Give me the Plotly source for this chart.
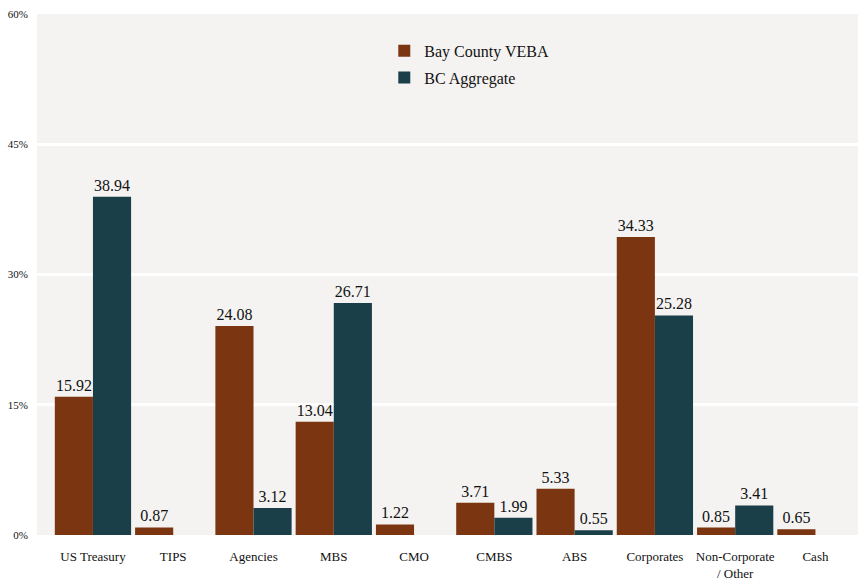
import plotly.graph_objects as go

categories = ["US Treasury", "TIPS", "Agencies", "MBS", "CMO", "CMBS", "ABS",
              "Corporates", "Non-Corporate<br>/ Other", "Cash"]
veba = [15.92, 0.87, 24.08, 13.04, 1.22, 3.71, 5.33, 34.33, 0.85, 0.65]
bc_agg = [38.94, None, 3.12, 26.71, None, 1.99, 0.55, 25.28, 3.41, None]
y_ticks = [0, 15, 30, 45, 60]
y_tick_text = ["0%", "15%", "30%", "45%", "60%"]

ORANGE = "#7B3511"
TEAL = "#1B3F48"
FONT = "'Liberation Serif', 'Times New Roman', 'DejaVu Serif', serif"

fig = go.Figure()
fig.add_trace(go.Bar(
    name="Bay County VEBA", x=categories, y=veba, marker_color=ORANGE,
    marker_line_width=0, legendgroup="a",
    texttemplate="%{y:.2f}", textposition="outside",
    textfont=dict(family=FONT, size=16, color="#111"),
    constraintext="none", cliponaxis=False,
))
fig.add_trace(go.Bar(
    name="BC Aggregate", x=categories, y=bc_agg, marker_color=TEAL,
    marker_line_width=0, legendgroup="b",
    texttemplate="%{y:.2f}", textposition="outside",
    textfont=dict(family=FONT, size=16, color="#111"),
    constraintext="none", cliponaxis=False,
))

fig.update_layout(
    width=860, height=580,
    margin=dict(l=37, r=2, t=14, b=45),
    paper_bgcolor="white",
    plot_bgcolor="#F4F3F1",
    barmode="group", bargap=0.05, bargroupgap=0,
    font=dict(family=FONT, color="#111"),
    showlegend=True,
    legend=dict(x=0.423, y=0.962, xanchor="left", yanchor="top",
                bgcolor="rgba(0,0,0,0)", font=dict(family=FONT, size=16),
                traceorder="grouped", tracegroupgap=3),
    xaxis=dict(type="category", range=[-0.697, 9.53], showgrid=False,
               ticks="outside", ticklen=9, tickcolor="rgba(0,0,0,0)",
               tickfont=dict(family=FONT, size=13), showline=False,
               automargin=False),
    yaxis=dict(range=[0, 60], tickvals=y_ticks, ticktext=y_tick_text,
               showgrid=True, gridcolor="white", gridwidth=2.5,
               zeroline=False, showline=False,
               ticks="outside", ticklen=6, tickcolor="rgba(0,0,0,0)",
               tickfont=dict(family=FONT, size=11), automargin=False),
)

fig.write_html("out.html")
